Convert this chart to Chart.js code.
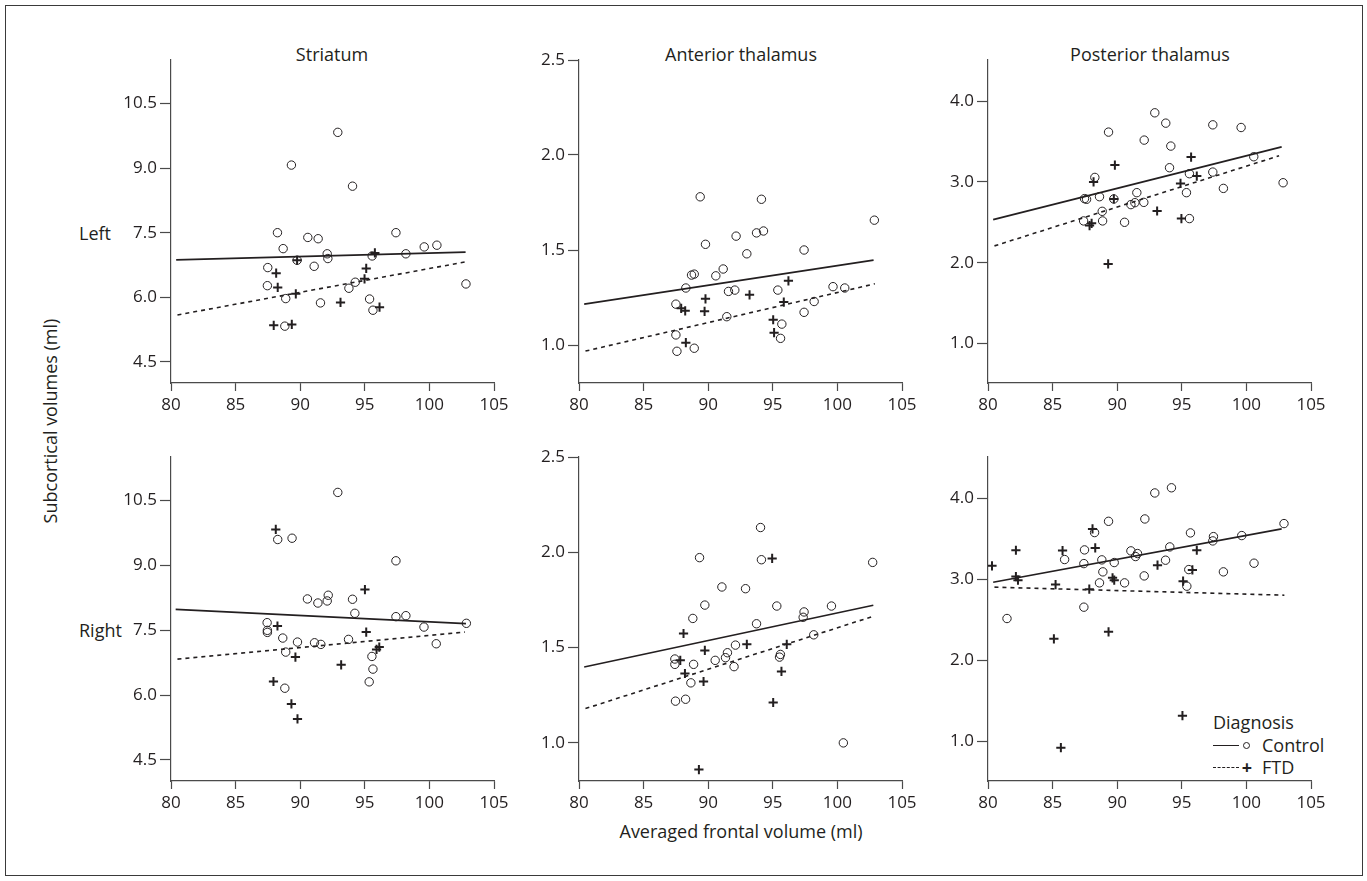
<!DOCTYPE html>
<html>
<head>
<meta charset="utf-8">
<script src="https://cdn.jsdelivr.net/npm/chart.js@4.4.1/dist/chart.umd.min.js"></script>
<style>
  html, body { margin: 0; padding: 0; background: #fff; }
  body { width: 1367px; height: 881px; position: relative; overflow: hidden;
         font-family: "Open Sans", sans-serif; color: #231f20; }
  .frame { position: absolute; left: 5px; top: 5px; width: 1358px; height: 871px;
           border: 1px solid #3a3a3a; box-sizing: border-box; }
  canvas { position: absolute; }
  .txt { position: absolute; font-size: 18px; line-height: 1; white-space: nowrap;
         transform: translate(-50%, -50%); }
  .left { transform: translate(0, -50%); }
  .ytitle { transform: translate(-50%, -50%) rotate(-90deg); }
  .legline { position: absolute; width: 26px; height: 0; border-top: 1.6px solid #231f20; }
  .legline.dash { border-top: 1.6px dashed #231f20; }
  .legcirc { position: absolute; width: 7px; height: 7px; border: 1px solid #231f20;
             border-radius: 50%; box-sizing: border-box; }
</style>
</head>
<body>
<div class="frame"></div>

<div class="txt" style="left:332px; top:54px;">Striatum</div>
<div class="txt" style="left:741px; top:54px;">Anterior thalamus</div>
<div class="txt" style="left:1150px; top:54px;">Posterior thalamus</div>
<div class="txt left" style="left:79px; top:233px;">Left</div>
<div class="txt left" style="left:79px; top:630px;">Right</div>
<div class="txt ytitle" style="left:50px; top:421px;">Subcortical volumes (ml)</div>
<div class="txt" style="left:741px; top:831px;">Averaged frontal volume (ml)</div>

<!-- Legende (nur Panel unten rechts) -->
<div class="txt left" style="left:1213px; top:722px;">Diagnosis</div>
<div class="legline" style="left:1213px; top:745px;"></div>
<div class="legcirc" style="left:1243px; top:742px;"></div>
<div class="txt left" style="left:1262px; top:745px;">Control</div>
<div class="legline dash" style="left:1213px; top:767px;"></div>
<div class="txt" style="left:1247px; top:767px; font-weight:bold;">+</div>
<div class="txt left" style="left:1262px; top:767px;">FTD</div>

<script>
// Achsen-Ticks
const xTicks = [80, 85, 90, 95, 100, 105];
const striatumTicks = [4.5, 6.0, 7.5, 9.0, 10.5];
const anteriorTicks = [1.0, 1.5, 2.0, 2.5];
const posteriorTicks = [1.0, 2.0, 3.0, 4.0];

// Striatum, links
const stLeftCtrlX = [92.91, 89.32, 94.05, 88.24, 90.59, 91.39, 97.41, 88.68, 99.60, 100.58, 92.09, 92.14, 89.76, 98.18, 95.57, 87.49, 91.08, 87.46, 94.26, 93.77, 88.88, 91.57, 95.37, 95.63, 88.81, 102.83];
const stLeftCtrlY = [9.83, 9.07, 8.58, 7.50, 7.39, 7.36, 7.50, 7.13, 7.17, 7.21, 7.01, 6.90, 6.86, 7.01, 6.96, 6.69, 6.72, 6.27, 6.35, 6.21, 5.97, 5.87, 5.96, 5.70, 5.33, 6.31];
const stLeftFtdX = [88.14, 88.26, 89.66, 89.76, 87.95, 89.35, 93.12, 95.11, 94.98, 95.78, 96.14];
const stLeftFtdY = [6.56, 6.23, 6.08, 6.86, 5.35, 5.37, 5.88, 6.67, 6.43, 7.03, 5.77];
const stLeftFitCtrlX = [80.4, 102.8];
const stLeftFitCtrlY = [6.87, 7.05];
const stLeftFitFtdX = [80.5, 102.75];
const stLeftFitFtdY = [5.59, 6.82];

// Anteriorer Thalamus, links
const atLeftCtrlX = [89.38, 94.12, 102.86, 94.28, 93.74, 92.16, 89.79, 92.99, 97.42, 91.16, 90.59, 88.71, 88.92, 88.27, 91.57, 92.06, 95.39, 99.66, 100.57, 98.20, 87.50, 97.42, 91.44, 95.70, 87.50, 95.60, 88.92, 87.58];
const atLeftCtrlY = [1.78, 1.767, 1.657, 1.60, 1.59, 1.573, 1.53, 1.48, 1.50, 1.40, 1.364, 1.368, 1.373, 1.30, 1.282, 1.289, 1.289, 1.307, 1.30, 1.229, 1.215, 1.172, 1.149, 1.11, 1.053, 1.035, 0.983, 0.967];
const atLeftFtdX = [87.91, 88.22, 89.79, 89.72, 93.20, 96.21, 95.85, 95.03, 95.10, 88.27];
const atLeftFtdY = [1.193, 1.18, 1.243, 1.177, 1.264, 1.338, 1.226, 1.133, 1.065, 1.012];
const atLeftFitCtrlX = [80.4, 102.8];
const atLeftFitCtrlY = [1.215, 1.447];
const atLeftFitFtdX = [80.5, 102.9];
const atLeftFitFtdY = [0.968, 1.322];

// Posteriorer Thalamus, links
const ptLeftCtrlX = [92.91, 93.76, 97.40, 99.59, 89.33, 92.09, 94.15, 100.57, 94.05, 95.59, 97.40, 88.27, 102.84, 98.22, 88.63, 91.52, 95.36, 87.47, 87.63, 89.74, 91.06, 91.37, 92.06, 88.84, 87.40, 88.87, 90.57, 95.59];
const ptLeftCtrlY = [3.856, 3.728, 3.707, 3.674, 3.617, 3.518, 3.444, 3.312, 3.176, 3.102, 3.122, 3.056, 2.99, 2.92, 2.817, 2.867, 2.867, 2.793, 2.785, 2.789, 2.719, 2.743, 2.747, 2.636, 2.517, 2.517, 2.50, 2.546];
const ptLeftFtdX = [89.82, 95.72, 88.17, 94.90, 96.16, 89.74, 93.09, 94.97, 87.86, 88.02, 89.30];
const ptLeftFtdY = [3.209, 3.308, 3.0, 2.982, 3.073, 2.789, 2.64, 2.546, 2.459, 2.488, 1.985];
const ptLeftFitCtrlX = [80.4, 102.73];
const ptLeftFitCtrlY = [2.533, 3.435];
const ptLeftFitFtdX = [80.5, 102.53];
const ptLeftFitFtdY = [2.208, 3.324];

// Striatum, rechts
const stRightCtrlX = [92.91, 88.26, 89.37, 97.41, 90.56, 92.17, 92.09, 91.37, 94.05, 94.23, 97.41, 98.18, 102.86, 99.58, 87.44, 87.46, 87.46, 88.65, 89.79, 91.11, 91.60, 93.74, 100.53, 88.88, 95.55, 95.63, 95.34, 88.81];
const stRightCtrlY = [10.69, 9.60, 9.63, 9.107, 8.224, 8.31, 8.178, 8.13, 8.217, 7.892, 7.814, 7.837, 7.66, 7.574, 7.675, 7.497, 7.45, 7.319, 7.226, 7.21, 7.172, 7.288, 7.187, 6.994, 6.893, 6.60, 6.305, 6.158];
const stRightFtdX = [88.11, 95.01, 88.24, 95.11, 96.12, 95.91, 89.63, 93.17, 87.93, 89.32, 89.79];
const stRightFtdY = [9.834, 8.441, 7.598, 7.458, 7.11, 7.056, 6.878, 6.70, 6.313, 5.794, 5.446];
const stRightFitCtrlX = [80.36, 102.83];
const stRightFitCtrlY = [7.985, 7.652];
const stRightFitFtdX = [80.5, 102.75];
const stRightFitFtdY = [6.831, 7.458];

// Anteriorer Thalamus, rechts
const atRightCtrlX = [94.05, 89.33, 94.12, 102.73, 91.06, 92.89, 89.74, 95.31, 99.54, 97.42, 97.35, 88.81, 93.74, 98.17, 92.11, 91.49, 91.34, 90.54, 92.0, 95.59, 95.52, 87.42, 87.42, 88.87, 88.66, 87.47, 88.25, 100.46];
const atRightCtrlY = [2.13, 1.972, 1.961, 1.947, 1.818, 1.809, 1.723, 1.718, 1.718, 1.687, 1.659, 1.653, 1.625, 1.567, 1.513, 1.473, 1.447, 1.433, 1.40, 1.464, 1.45, 1.44, 1.412, 1.412, 1.315, 1.219, 1.229, 1.0];
const atRightFtdX = [94.95, 88.09, 92.99, 96.08, 89.74, 87.84, 88.20, 89.64, 95.67, 95.03, 89.28];
const atRightFtdY = [1.968, 1.574, 1.517, 1.517, 1.485, 1.433, 1.364, 1.322, 1.375, 1.212, 0.86];
const atRightFitCtrlX = [80.4, 102.78];
const atRightFitCtrlY = [1.398, 1.722];
const atRightFitFtdX = [80.5, 102.9];
const atRightFitFtdY = [1.18, 1.667];

// Posteriorer Thalamus, rechts
const ptRightCtrlX = [94.20, 92.91, 89.33, 92.14, 102.91, 88.25, 95.67, 97.45, 97.40, 99.64, 87.47, 91.06, 91.57, 91.42, 94.07, 85.93, 88.81, 87.42, 89.77, 93.74, 100.59, 88.89, 95.54, 98.22, 92.09, 88.63, 90.57, 95.39, 87.42, 81.47];
const ptRightCtrlY = [4.13, 4.066, 3.716, 3.745, 3.688, 3.577, 3.573, 3.527, 3.474, 3.54, 3.363, 3.351, 3.318, 3.281, 3.40, 3.244, 3.24, 3.194, 3.207, 3.236, 3.199, 3.092, 3.12, 3.092, 3.042, 2.956, 2.956, 2.915, 2.656, 2.516];
const ptRightFtdX = [80.31, 82.16, 82.16, 82.32, 85.77, 85.23, 88.09, 88.30, 87.84, 89.64, 89.77, 93.12, 96.16, 95.82, 95.10, 89.33, 85.10, 95.05, 85.64];
const ptRightFtdY = [3.166, 3.359, 3.034, 2.989, 3.355, 2.935, 3.622, 3.388, 2.878, 3.018, 2.989, 3.174, 3.359, 3.116, 2.977, 2.352, 2.265, 1.316, 0.921];
const ptRightFitCtrlX = [80.4, 102.73];
const ptRightFitCtrlY = [2.964, 3.622];
const ptRightFitFtdX = [80.5, 102.94];
const ptRightFitFtdY = [2.903, 2.804];

const INK = '#231f20';
const AXIS = '#4a4a4a';

// Plotflaeche je Panel in Seitenpixeln
const COLS = [[170.7, 493.3], [579.3, 902.7], [988.3, 1311.7]];
const ROWS = [[60, 383.3], [456.7, 780.7]];

const panels = [
  { col: 0, row: 0, cx: stLeftCtrlX, cy: stLeftCtrlY, fx: stLeftFtdX, fy: stLeftFtdY,
    lcx: stLeftFitCtrlX, lcy: stLeftFitCtrlY, lfx: stLeftFitFtdX, lfy: stLeftFitFtdY,
    yMin: 4.01, yMax: 11.51, yTicks: striatumTicks },
  { col: 1, row: 0, cx: atLeftCtrlX, cy: atLeftCtrlY, fx: atLeftFtdX, fy: atLeftFtdY,
    lcx: atLeftFitCtrlX, lcy: atLeftFitCtrlY, lfx: atLeftFitFtdX, lfy: atLeftFitFtdY,
    yMin: 0.8, yMax: 2.5, yTicks: anteriorTicks },
  { col: 2, row: 0, cx: ptLeftCtrlX, cy: ptLeftCtrlY, fx: ptLeftFtdX, fy: ptLeftFtdY,
    lcx: ptLeftFitCtrlX, lcy: ptLeftFitCtrlY, lfx: ptLeftFitFtdX, lfy: ptLeftFitFtdY,
    yMin: 0.51, yMax: 4.51, yTicks: posteriorTicks },
  { col: 0, row: 1, cx: stRightCtrlX, cy: stRightCtrlY, fx: stRightFtdX, fy: stRightFtdY,
    lcx: stRightFitCtrlX, lcy: stRightFitCtrlY, lfx: stRightFitFtdX, lfy: stRightFitFtdY,
    yMin: 4.01, yMax: 11.51, yTicks: striatumTicks },
  { col: 1, row: 1, cx: atRightCtrlX, cy: atRightCtrlY, fx: atRightFtdX, fy: atRightFtdY,
    lcx: atRightFitCtrlX, lcy: atRightFitCtrlY, lfx: atRightFitFtdX, lfy: atRightFitFtdY,
    yMin: 0.8, yMax: 2.5, yTicks: anteriorTicks },
  { col: 2, row: 1, cx: ptRightCtrlX, cy: ptRightCtrlY, fx: ptRightFtdX, fy: ptRightFtdY,
    lcx: ptRightFitCtrlX, lcy: ptRightFitCtrlY, lfx: ptRightFitFtdX, lfy: ptRightFitFtdY,
    yMin: 0.51, yMax: 4.51, yTicks: posteriorTicks },
];

// Raender um die Plotflaeche (Canvas ist groesser, damit Ticks/Labels Platz haben)
const PAD_L = 100, PAD_T = 20, PAD_R = 30, PAD_B = 60;
const Y_W = 60, X_H = 45;

const pts = (xs, ys) => xs.map((x, i) => ({ x, y: ys[i] }));

function makePanel(p) {
  const [l, r] = COLS[p.col];
  const [t, b] = ROWS[p.row];
  const canvas = document.createElement('canvas');
  const w = Math.round(r - l + PAD_L + PAD_R);
  const h = Math.round(b - t + PAD_T + PAD_B);
  canvas.width = w;
  canvas.height = h;
  canvas.style.width = w + 'px';
  canvas.style.height = h + 'px';
  canvas.style.left = (l - PAD_L) + 'px';
  canvas.style.top = (t - PAD_T) + 'px';
  document.body.appendChild(canvas);

  const tickFont = { family: '"Open Sans", sans-serif', size: 17 };

  new Chart(canvas, {
    type: 'scatter',
    data: {
      datasets: [
        { data: pts(p.lcx, p.lcy), showLine: true, borderColor: INK, borderWidth: 1.7,
          pointRadius: 0 },
        { data: pts(p.lfx, p.lfy), showLine: true, borderColor: INK, borderWidth: 1.6,
          borderDash: [4, 4], pointRadius: 0 },
        { data: pts(p.cx, p.cy), pointStyle: 'circle', pointRadius: 4.2,
          borderColor: INK, backgroundColor: 'rgba(0,0,0,0)', borderWidth: 1 },
        { data: pts(p.fx, p.fy), pointStyle: 'cross', pointRadius: 4.6,
          borderColor: INK, borderWidth: 2 },
      ],
    },
    options: {
      responsive: false,
      animation: false,
      events: [],
      layout: { padding: { left: PAD_L - Y_W, top: PAD_T, right: PAD_R, bottom: PAD_B - X_H } },
      plugins: { legend: { display: false }, tooltip: { enabled: false } },
      scales: {
        x: {
          type: 'linear',
          min: 80,
          max: 105,
          afterBuildTicks: (s) => { s.ticks = xTicks.map((v) => ({ value: v })); },
          afterFit: (s) => { s.height = X_H; },
          ticks: { font: tickFont, color: INK, padding: 4, maxRotation: 0, autoSkip: false },
          grid: { drawOnChartArea: false, tickLength: 8, tickColor: AXIS, tickWidth: 1.2 },
          border: { color: AXIS, width: 1.2 },
        },
        y: {
          type: 'linear',
          min: p.yMin,
          max: p.yMax,
          afterBuildTicks: (s) => { s.ticks = p.yTicks.map((v) => ({ value: v })); },
          afterFit: (s) => { s.width = Y_W; },
          ticks: { font: tickFont, color: INK, padding: 3, callback: (v) => Number(v).toFixed(1) },
          grid: { drawOnChartArea: false, tickLength: 11, tickColor: AXIS, tickWidth: 1.2 },
          border: { color: AXIS, width: 1.2 },
        },
      },
    },
  });
}

panels.forEach(makePanel);
</script>
</body>
</html>
